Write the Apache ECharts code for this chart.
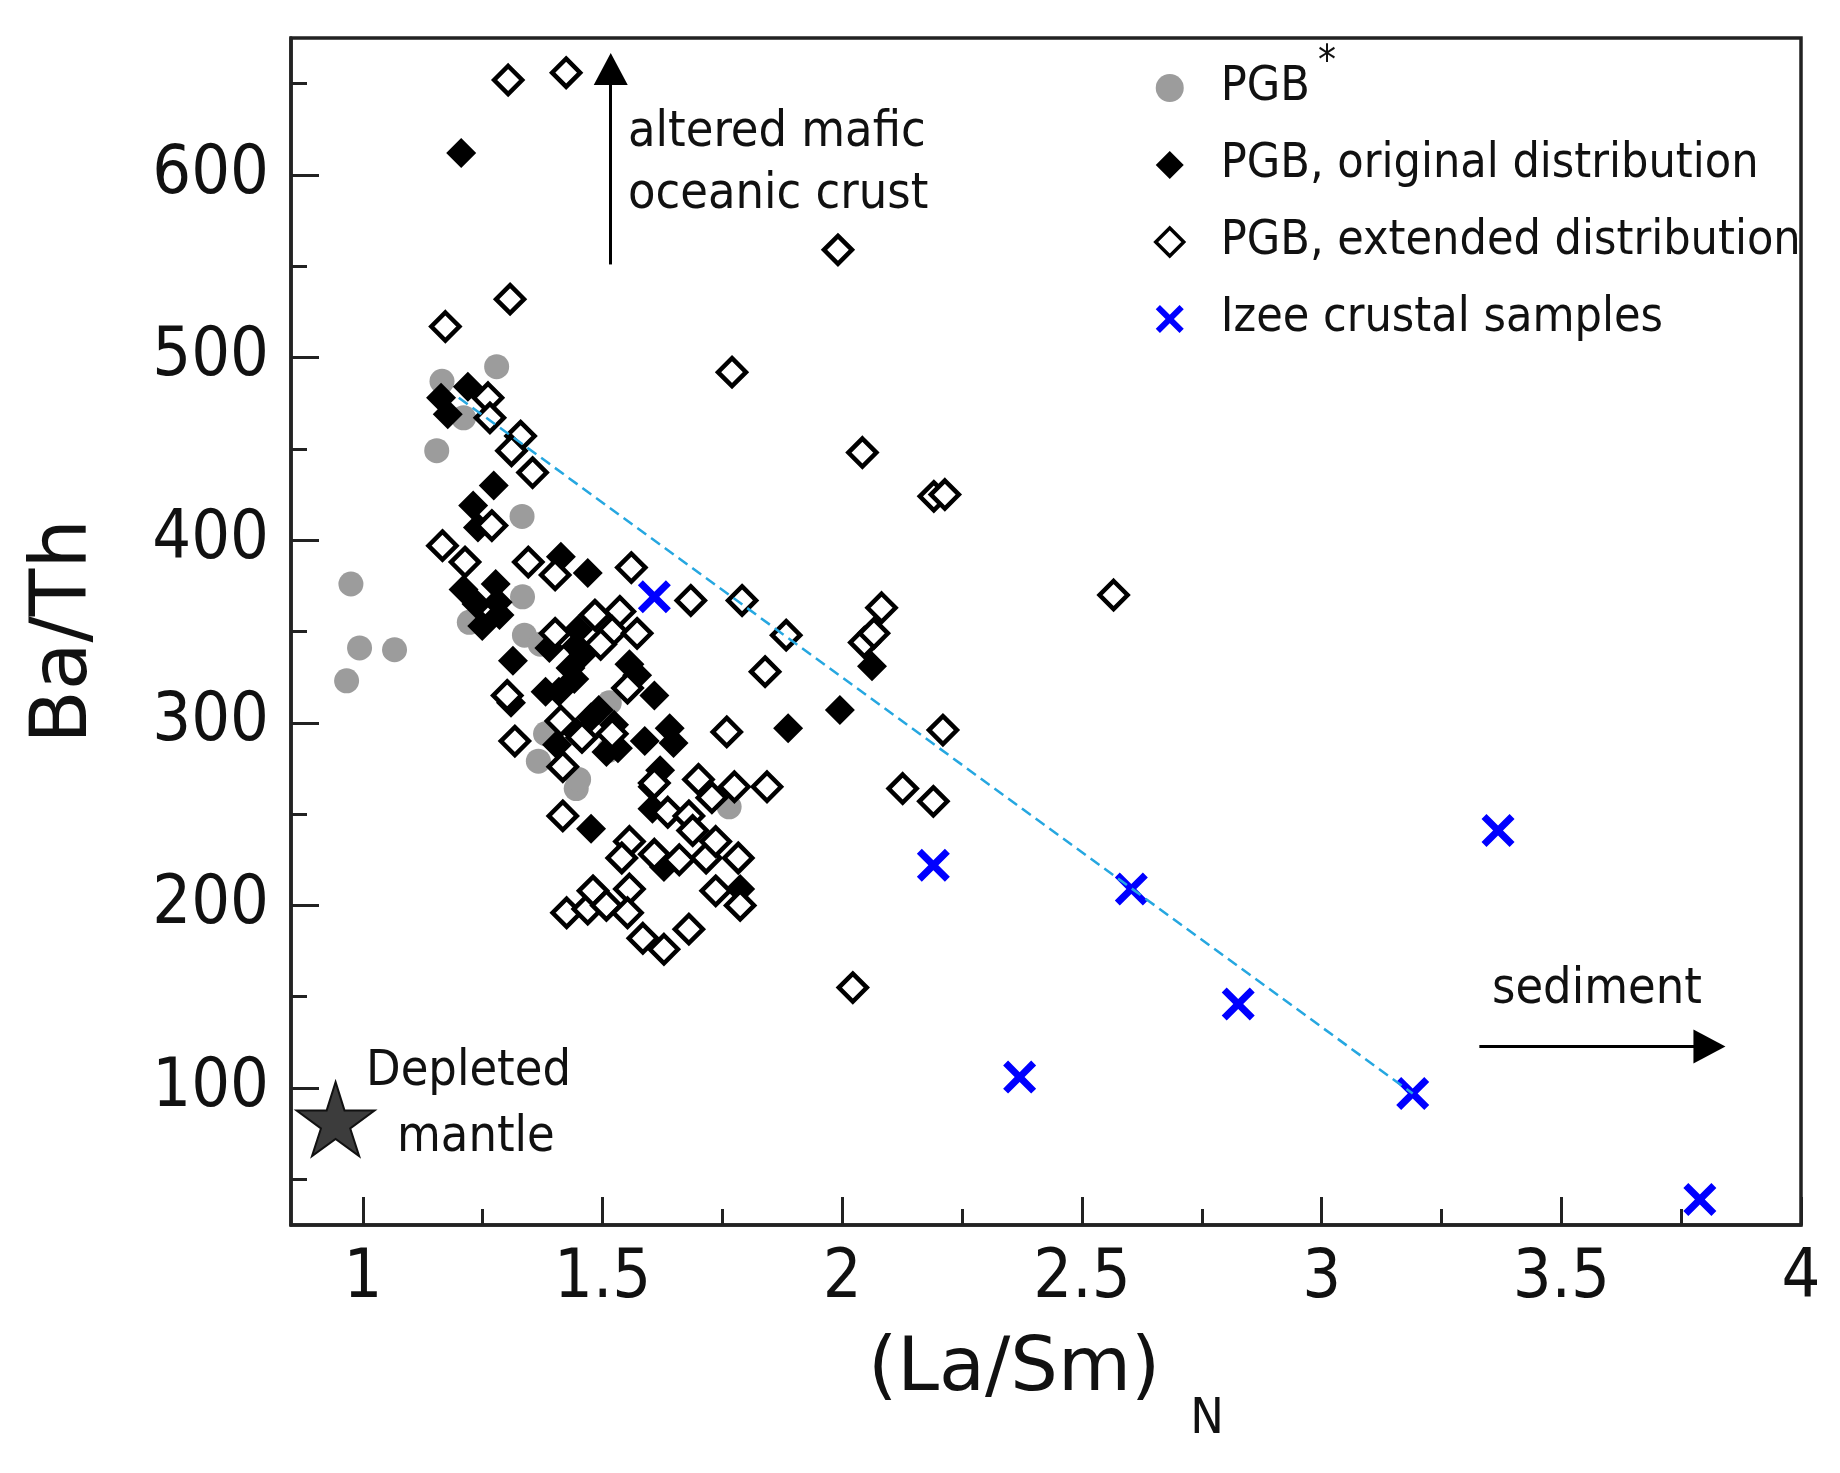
<!DOCTYPE html>
<html>
<head>
<meta charset="utf-8">
<title>Ba/Th vs (La/Sm)N</title>
<script src="https://cdn.jsdelivr.net/npm/echarts@6/dist/echarts.min.js"></script>
<style>
  html, body { margin: 0; padding: 0; background: #fff; }
  #chart { width: 1840px; height: 1473px; }
</style>
</head>
<body>
<div id="chart"></div>
<script>
// values, each point is [ (La/Sm)N , Ba/Th ]
var pgbStar = [
  [0.975, 376], [0.993, 341], [1.066, 340], [0.966, 323],
  [1.165, 487], [1.154, 449], [1.21, 467], [1.279, 495],
  [1.332, 413], [1.333, 369], [1.337, 348], [1.37, 343],
  [1.222, 355], [1.381, 294], [1.366, 279], [1.445, 264],
  [1.45, 269], [1.514, 311], [1.514, 285], [1.764, 254]
];
var pgbOriginal = [
  [1.205, 612], [1.163, 478], [1.177, 469], [1.219, 484], [1.273, 430],
  [1.23, 419], [1.24, 407], [1.21, 373], [1.277, 376], [1.281, 366],
  [1.249, 353], [1.285, 359], [1.237, 365], [1.413, 391], [1.469, 382],
  [1.313, 334], [1.449, 351], [1.445, 342], [1.433, 330], [1.409, 317],
  [1.441, 324], [1.309, 311], [1.492, 307], [1.524, 299], [1.556, 332],
  [1.572, 326], [1.608, 315], [1.405, 288], [1.445, 295], [1.508, 284],
  [1.532, 286], [1.588, 290], [1.64, 297], [1.648, 289], [1.476, 242],
  [1.62, 274], [1.604, 265], [1.604, 253], [1.628, 221], [1.787, 209],
  [1.887, 297], [1.995, 307], [2.062, 331], [1.389, 341], [1.46, 338],
  [1.381, 317], [1.476, 303]
];
var pgbExtended = [
  [1.303, 652], [1.424, 656], [1.991, 559], [1.307, 532], [1.172, 517],
  [1.77, 492], [1.261, 478], [1.265, 467], [1.329, 457], [1.31, 449],
  [1.354, 437], [2.042, 448], [2.191, 424], [2.214, 425],
  [1.166, 397], [1.213, 388], [1.269, 408], [1.345, 388], [1.401, 381],
  [1.56, 385], [1.684, 367], [1.791, 367], [1.883, 348], [2.082, 363],
  [2.046, 344], [2.066, 349], [1.401, 349], [1.484, 359], [1.536, 361],
  [1.52, 350], [1.572, 349], [1.496, 343], [1.839, 328], [1.301, 315],
  [1.552, 319], [1.413, 301], [1.317, 290], [1.457, 292], [1.52, 294],
  [1.759, 295], [2.21, 296], [1.417, 276], [1.608, 267], [1.7, 269],
  [1.775, 265], [1.843, 265], [1.728, 259], [2.126, 264], [2.19, 257],
  [1.636, 251], [1.68, 249], [1.417, 249], [1.688, 241], [1.556, 235],
  [1.54, 226], [1.608, 228], [1.66, 225], [1.716, 226], [1.736, 235],
  [1.783, 226], [1.736, 208], [1.787, 200], [1.425, 196], [1.469, 198],
  [1.48, 208], [1.508, 200], [1.556, 209], [1.552, 196], [1.584, 182],
  [1.628, 176], [1.68, 187], [2.022, 155], [2.566, 370]
];
var izeeCrust = [
  [1.608, 369], [2.19, 222], [2.603, 209], [2.826, 146],
  [2.37, 106], [3.19, 97], [3.368, 241], [3.789, 39]
];
var depletedMantle = [[0.943, 83]];
var mixingLine = [[1.2, 478], [3.19, 97]];
var arrowMafic = [[1.517, 551], [1.517, 658]];
var arrowSediment = [[3.329, 122.7], [3.809, 122.7]];

var xMajorTicks = [1, 1.5, 2, 2.5, 3, 3.5, 4];
var xMinorTicks = [1.25, 1.75, 2.25, 2.75, 3.25, 3.75];
var yMajorTicks = [100, 200, 300, 400, 500, 600];
var yMinorTicks = [50, 150, 250, 350, 450, 550, 650];

var cond = "'DejaVu Sans Condensed', 'DejaVu Sans', sans-serif";
var ink = '#111';
var frame = '#222';

var crossPath = 'path://M1.5,0 L5,3.5 L8.5,0 L10,1.5 L6.5,5 L10,8.5 L8.5,10 L5,6.5 L1.5,10 L0,8.5 L3.5,5 L0,1.5 Z';
var starPath = 'path://M50,0 L61,35 L98,35 L68,57 L79,91 L50,70 L21,91 L32,57 L2,35 L39,35 Z';

function arrowSeries(pts) {
  return {
    type: 'line',
    data: [],
    silent: true,
    markLine: {
      silent: true,
      animation: false,
      symbol: ['none', 'triangle'],
      symbolSize: [34, 32],
      label: { show: false },
      lineStyle: { color: '#000', width: 3, type: 'solid' },
      data: [[{ coord: pts[0] }, { coord: pts[1] }]]
    }
  };
}

var chart = echarts.init(document.getElementById('chart'));

var option = {
  animation: false,
  backgroundColor: '#fff',
  grid: {
    left: 291, right: 39, top: 38, bottom: 248,
    show: true, borderColor: frame, borderWidth: 3.5, backgroundColor: 'transparent'
  },
  xAxis: [{
    type: 'value', min: 0.85, max: 4, position: 'bottom',
    axisLine: { show: true, onZero: false, lineStyle: { color: frame, width: 3.5 } },
    axisTick: { show: true, inside: true, length: 28, customValues: xMajorTicks, lineStyle: { color: frame, width: 3 } },
    axisLabel: { customValues: xMajorTicks, fontSize: 68, fontFamily: cond, color: ink, margin: 20 },
    splitLine: { show: false },
    name: '{a|(La/Sm)}{b|N}',
    nameLocation: 'middle',
    nameGap: 108,
    nameTextStyle: {
      rich: {
        a: { fontSize: 75, fontFamily: 'DejaVu Sans', color: ink, verticalAlign: 'top' },
        b: { fontSize: 50, fontFamily: cond, color: ink, verticalAlign: 'top', padding: [62, 0, 0, 30] }
      }
    }
  }, {
    type: 'value', min: 0.85, max: 4, position: 'bottom',
    axisLine: { show: false, onZero: false },
    axisTick: { show: true, inside: true, length: 16, customValues: xMinorTicks, lineStyle: { color: frame, width: 3 } },
    axisLabel: { show: false },
    splitLine: { show: false }
  }],
  yAxis: [{
    type: 'value', min: 25, max: 675, position: 'left',
    axisLine: { show: true, onZero: false, lineStyle: { color: frame, width: 3.5 } },
    axisTick: { show: true, inside: true, length: 28, customValues: yMajorTicks, lineStyle: { color: frame, width: 3 } },
    axisLabel: { customValues: yMajorTicks, fontSize: 68, fontFamily: cond, color: ink, margin: 22 },
    splitLine: { show: false },
    name: 'Ba/Th',
    nameLocation: 'middle',
    nameRotate: 90,
    nameGap: 186,
    nameTextStyle: { fontSize: 78, fontFamily: 'DejaVu Sans', color: ink }
  }, {
    type: 'value', min: 25, max: 675, position: 'left',
    axisLine: { show: false, onZero: false },
    axisTick: { show: true, inside: true, length: 16, customValues: yMinorTicks, lineStyle: { color: frame, width: 3 } },
    axisLabel: { show: false },
    splitLine: { show: false }
  }],
  legend: {
    orient: 'vertical',
    left: 1149,
    top: 39,
    itemWidth: 28,
    itemHeight: 28,
    itemGap: 29,
    selectedMode: false,
    data: [
      { name: 'PGB*' },
      { name: 'PGB, original distribution' },
      { name: 'PGB, extended distribution', itemStyle: { borderWidth: 3.5, borderColor: '#000' } },
      { name: 'Izee crustal samples' }
    ],
    formatter: function (name) {
      return name === 'PGB*' ? '{m|PGB}{s|*}' : name;
    },
    textStyle: {
      fontSize: 48, fontFamily: cond, color: ink, lineHeight: 48, padding: [0, 0, 0, 32],
      rich: {
        m: { fontSize: 48, fontFamily: cond, color: ink, lineHeight: 48 },
        s: { fontSize: 40, fontFamily: cond, color: ink, verticalAlign: 'top', padding: [-20, 0, 0, 8] }
      }
    }
  },
  graphic: [
    { type: 'text', left: 628, top: 102, style: { text: 'altered mafic\noceanic crust', fontSize: 50, fontFamily: cond, fill: ink, lineHeight: 62 } },
    { type: 'text', left: 366, top: 1041, style: { text: 'Depleted', fontSize: 50, fontFamily: cond, fill: ink, lineHeight: 62 } },
    { type: 'text', left: 397, top: 1107, style: { text: 'mantle', fontSize: 50, fontFamily: cond, fill: ink, lineHeight: 62 } },
    { type: 'text', left: 1492, top: 959, style: { text: 'sediment', fontSize: 50, fontFamily: cond, fill: ink, lineHeight: 62 } }
  ],
  series: [
    {
      name: 'PGB*', type: 'scatter', data: pgbStar,
      symbol: 'circle', symbolSize: 25,
      itemStyle: { color: '#9c9c9c', opacity: 1 }
    },
    {
      name: 'mixing', type: 'line', data: mixingLine,
      symbol: 'none', silent: true,
      lineStyle: { color: '#26a7e0', width: 2.5, type: [11, 6] }
    },
    {
      name: 'PGB, original distribution', type: 'scatter', data: pgbOriginal,
      symbol: 'diamond', symbolSize: 30,
      itemStyle: { color: '#000', opacity: 1 }
    },
    {
      name: 'PGB, extended distribution', type: 'scatter', data: pgbExtended,
      symbol: 'diamond', symbolSize: 28,
      itemStyle: { color: '#fff', borderColor: '#000', borderWidth: 4.5, opacity: 1 }
    },
    {
      name: 'Izee crustal samples', type: 'scatter', data: izeeCrust,
      symbol: crossPath, symbolSize: 33,
      itemStyle: { color: '#0000ff', opacity: 1 }
    },
    {
      name: 'Depleted mantle', type: 'scatter', data: depletedMantle,
      symbol: starPath, symbolSize: [78, 74],
      itemStyle: { color: '#3c3c3c', borderColor: '#111', borderWidth: 2, opacity: 1 }
    },
    arrowSeries(arrowMafic),
    arrowSeries(arrowSediment)
  ]
};

chart.setOption(option);
</script>
</body>
</html>
